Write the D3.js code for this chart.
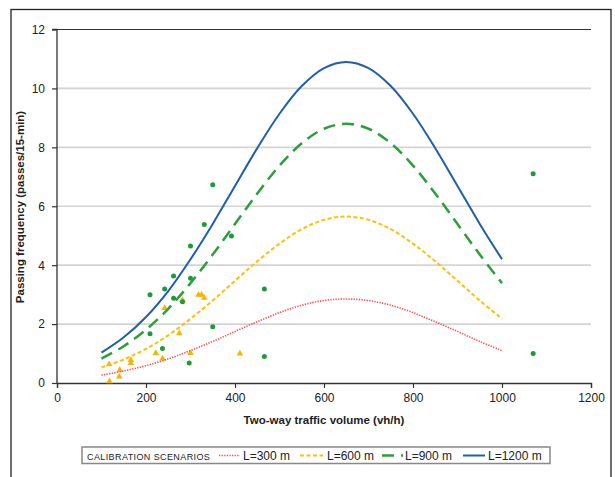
<!DOCTYPE html>
<html><head><meta charset="utf-8">
<script src="https://cdn.jsdelivr.net/npm/d3@7"></script>
<style>
html,body{margin:0;padding:0;background:#fff;}
svg{display:block;font-family:"Liberation Sans","Open Sans",sans-serif;}
</style></head>
<body>
<svg id="chart" width="615" height="477"></svg>
<script>
// ---- data ----
const xCurve = [100,150,200,250,300,350,400,450,500,550,600,650,700,750,800,850,900,950,1000];
const L300  = [0.27,0.41,0.59,0.82,1.10,1.41,1.75,2.08,2.39,2.64,2.80,2.85,2.80,2.64,2.39,2.08,1.75,1.41,1.10];
const L600  = [0.53,0.80,1.16,1.62,2.18,2.80,3.47,4.13,4.73,5.22,5.54,5.65,5.54,5.22,4.73,4.13,3.47,2.80,2.18];
const L900  = [0.83,1.25,1.81,2.52,3.39,4.36,5.40,6.43,7.38,8.14,8.63,8.80,8.63,8.14,7.38,6.43,5.40,4.36,3.39];
const L1200 = [1.03,1.55,2.24,3.12,4.20,5.40,6.69,7.97,9.14,10.08,10.69,10.90,10.69,10.08,9.14,7.97,6.69,5.40,4.20];

const greenX = [350,331,300,262,300,242,209,262,282,350,209,237,297,392,466,466,1070,1070];
const greenY = [6.73,5.38,4.65,3.63,3.56,3.19,3.00,2.88,2.76,1.91,1.67,1.17,0.68,4.99,3.19,0.90,7.10,1.00];

const yellowX = [118,117,141,140,166,166,222,237,242,275,300,318,325,331,282,411];
const yellowY = [0.04,0.62,0.43,0.20,0.66,0.76,1.00,0.81,2.53,1.67,1.00,2.98,2.98,2.87,2.80,0.98];

const xTicks = [0,200,400,600,800,1000,1200];
const yTicks = [0,2,4,6,8,10,12];
const seriesNames = ["L=300 m","L=600 m","L=900 m","L=1200 m"];
const legendTitle = "CALIBRATION SCENARIOS";

// ---- layout ----
const svg = d3.select("#chart");
const x = d3.scaleLinear().domain([0,1200]).range([57,591]);
const y = d3.scaleLinear().domain([0,12]).range([383,29.5]);

// outer frame
svg.append("rect").attr("x",11).attr("y",9.5).attr("width",600).attr("height",480)
  .attr("fill","none").attr("stroke","#222").attr("stroke-width",1.3);

// gridlines
svg.append("g").selectAll("line").data(yTicks.filter(d=>d>0 && d<12)).join("line")
  .attr("x1",x(0)).attr("x2",x(1200)).attr("y1",d=>y(d)).attr("y2",d=>y(d))
  .attr("stroke","#d4d4d4").attr("stroke-width",1.6);
svg.append("line").attr("x1",x(0)).attr("x2",x(1200)).attr("y1",y(12)).attr("y2",y(12))
  .attr("stroke","#333").attr("stroke-width",1.2);

// axes
const xAxis = d3.axisBottom(x).tickValues(xTicks).tickSize(5).tickPadding(5).tickFormat(d3.format("d"));
const gx = svg.append("g").attr("transform",`translate(0,${y(0)})`).call(xAxis);
const yAxis = d3.axisLeft(y).tickValues(yTicks).tickSize(5).tickPadding(7).tickFormat(d3.format("d"));
const gy = svg.append("g").attr("transform",`translate(${x(0)},0)`).call(yAxis);
[gx,gy].forEach(g=>{
  g.select(".domain").attr("stroke","#333").attr("stroke-width",1.3);
  g.selectAll(".tick line").attr("stroke","#333").attr("stroke-width",1.2);
  g.selectAll(".tick text").attr("font-size",12).attr("fill","#222")
   .attr("font-family","'Liberation Sans','Open Sans',sans-serif");
});
gy.select(".domain").attr("d",`M-5,${y(12)}H0V${y(0)}`);

// axis titles
svg.append("text").attr("x",324).attr("y",424).attr("text-anchor","middle")
  .attr("font-size",11.5).attr("font-weight","bold").attr("fill","#222")
  .text("Two-way traffic volume (vh/h)");
svg.append("text").attr("transform","translate(24,207) rotate(-90)").attr("text-anchor","middle")
  .attr("font-size",11.5).attr("font-weight","bold").attr("fill","#222")
  .text("Passing frequency (passes/15-min)");

// curves
const styles = [
  {data:L300, color:"#ff4b4b", w:1.6, dash:"1.3,1.3"},
  {data:L600, color:"#ffc000", w:2, dash:"4,2.5"},
  {data:L900, color:"#2e9e3a", w:2.5, dash:"12,7"},
  {data:L1200, color:"#1f5eae", w:2, dash:null}
];
const line = d3.line().x(d=>x(d[0])).y(d=>y(d[1])).curve(d3.curveCatmullRom);
const plot = svg.append("g");

// yellow triangles
const tri = d3.symbol().type(d3.symbolTriangle).size(19);
plot.selectAll("path.tri").data(yellowX.map((v,i)=>[v,yellowY[i]])).join("path")
  .attr("class","tri").attr("d",tri)
  .attr("transform",d=>`translate(${x(d[0])},${y(d[1])-0.5})`)
  .attr("fill","#f7b500");

styles.forEach(s=>{
  plot.append("path").datum(xCurve.map((v,i)=>[v,s.data[i]]))
    .attr("d",line).attr("fill","none").attr("stroke",s.color)
    .attr("stroke-width",s.w).attr("stroke-dasharray",s.dash);
});

// green dots
plot.selectAll("circle.gd").data(greenX.map((v,i)=>[v,greenY[i]])).join("circle")
  .attr("class","gd").attr("cx",d=>x(d[0])).attr("cy",d=>y(d[1])).attr("r",2.5)
  .attr("fill","#1e9a3a");

// legend
const lg = svg.append("g");
lg.append("rect").attr("x",82).attr("y",447).attr("width",468).attr("height",16.5)
  .attr("fill","#fff").attr("stroke","#888").attr("stroke-width",1.5);
lg.append("text").attr("x",87).attr("y",459.5).attr("font-size",9).attr("fill","#222")
  .attr("letter-spacing",0.4).text(legendTitle);
const lgPos = [[219,240,243],[300,323,327],[382,403,405],[463,485,488]];
styles.forEach((s,i)=>{
  lg.append("line").attr("x1",lgPos[i][0]).attr("x2",lgPos[i][1]).attr("y1",455.5).attr("y2",455.5)
    .attr("stroke",s.color).attr("stroke-width",s.w).attr("stroke-dasharray",s.dash);
  lg.append("text").attr("x",lgPos[i][2]).attr("y",460).attr("font-size",12).attr("fill","#222")
    .text(seriesNames[i]);
});
</script>
</body></html>
